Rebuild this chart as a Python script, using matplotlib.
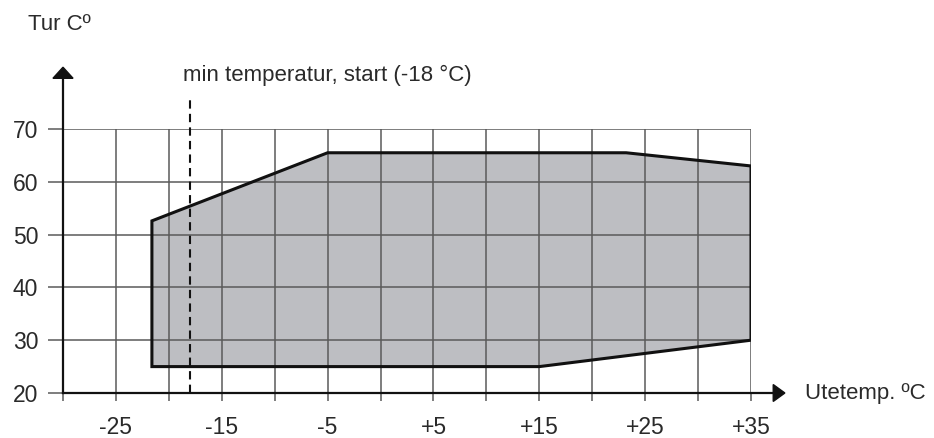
import numpy as np
import matplotlib.pyplot as plt

# envelope of the operating range (outdoor temp, flow temp)
env_x = [-21.6, -5, 23.2, 35, 35, 15, -21.6]
env_y = [52.6, 65.5, 65.5, 63.0, 30, 25, 25]

grid_x = np.arange(-30, 36, 5)
grid_y = [20, 30, 40, 50, 60, 70]
xlabels = {-25: "-25", -15: "-15", -5: "-5", 5: "+5", 15: "+15", 25: "+25", 35: "+35"}
min_start = -18

plt.rcParams['font.family'] = ['Liberation Sans', 'DejaVu Sans']
txt = "#2a2a2a"
fs = 16
fs_num = 16.5

W, H = 934, 438
fig = plt.figure(figsize=(W / 100, H / 100), dpi=100)
# data area: x -30..35 -> px 63..751, y 20..70 -> px 393..129
ax = fig.add_axes([63 / W, (H - 393) / H, (751 - 63) / W, (393 - 129) / H])
ax.set_xlim(-30, 35)
ax.set_ylim(20, 70)
for s in ax.spines.values():
    s.set_visible(False)

gcol = "#5a5a5a"
ax.fill(env_x, env_y, facecolor="#bdbec2", edgecolor="none", zorder=2)
ax.vlines(grid_x[1:], 20, 70, color=gcol, lw=1.1, zorder=3)
ax.hlines(grid_y[1:], -30, 35, color=gcol, lw=1.1, zorder=3)
ax.fill(env_x, env_y, facecolor="none", edgecolor="#111111", lw=2.2, zorder=4,
        joinstyle="miter")

ax.set_xticks(grid_x)
ax.set_xticklabels([xlabels.get(int(v), "") for v in grid_x])
ax.set_yticks(grid_y)
ax.set_yticklabels([str(v) for v in grid_y])
ax.tick_params(axis="x", length=5.8, width=1.1, color=gcol, pad=11, labelsize=fs_num, labelcolor=txt)
ax.tick_params(axis="y", length=10.8, width=1.1, color=gcol, pad=7, labelsize=fs_num, labelcolor=txt)

# axes with arrows
ax.plot([-30, 37.2], [20, 20], color="#111111", lw=1.6, clip_on=False, zorder=5)
ax.plot([-30, -30], [20, 79.7], color="#111111", lw=1.6, clip_on=False, zorder=5)
ax.fill([37.1, 38.2, 37.1], [21.6, 20, 18.4], color="#111111", clip_on=False, zorder=5)
ax.fill([-30.95, -30, -29.05], [79.6, 81.7, 79.6], color="#111111", clip_on=False, zorder=5)

# minimum start temperature
ax.plot([min_start, min_start], [20, 76], color="#111111", lw=1.5,
        ls=(0, (4, 2.5)), clip_on=False, zorder=5)
ax.text(-18.7, 80.2, "min temperatur, start (-18 °C)", fontsize=fs,
        color=txt, ha="left", va="center")

ax.text(40.1, 20, "Utetemp. ºC", fontsize=fs, color=txt, ha="left", va="center")
fig.text(28 / W, 1 - 24 / H, "Tur Cº", fontsize=fs, color=txt, ha="left", va="center")

fig.savefig("out.png", dpi=100)
